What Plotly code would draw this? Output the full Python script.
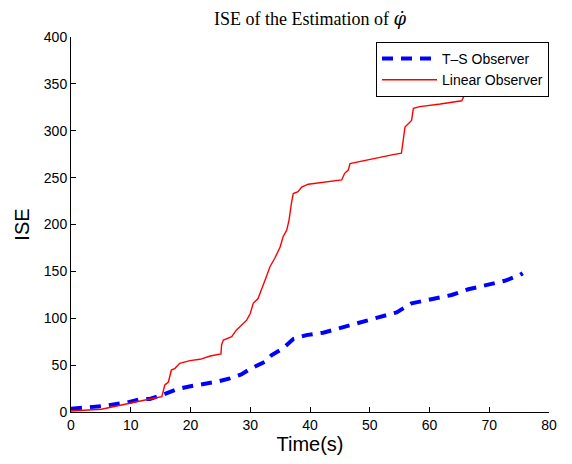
import plotly.graph_objects as go

# T-S Observer (blue dashed)
ts_time = [0, 2.5, 5.4, 8.2, 9.3, 11.5, 13.2, 14.9, 17.1, 17.7, 19.6, 21.0, 24.4, 26.6, 28.5, 30.0,
           32.5, 33.6, 35.5, 37.2, 38.3, 39.4, 42.2, 45.0, 48.4, 51.2, 54.5, 57.0, 60.6, 63.7,
           66.5, 69.6, 72.6, 75.1, 75.6]
ts_ise = [3.5, 5.0, 6.4, 9.2, 10.0, 13.5, 13.9, 17.4, 23.5, 24.2, 27.0, 28.5, 32.3, 35.9, 40.0, 46.0,
          53.7, 60.8, 68.0, 77.9, 79.7, 82.0, 84.6, 89.3, 95.6, 100.0, 106.3, 115.9, 120.2, 124.8,
          130.9, 135.5, 140.0, 146.0, 148.0]

# Linear Observer (red solid)
lin_time = [0, 5.1, 13.2, 15.2, 15.7, 16.3, 16.8, 17.4, 18.2, 19.9, 21.6, 23.3, 25.1, 25.2, 25.5,
            26.1, 26.9, 27.7, 28.8, 29.4, 30.0, 30.5, 31.3, 31.9, 32.5, 33.3, 34.1, 35.0, 35.5,
            36.1, 36.5, 36.9, 37.2, 38.0, 38.6, 39.7, 41.7, 44.7, 45.3, 45.8, 46.4, 46.7, 48.4,
            50.0, 51.7, 53.9, 55.3, 55.9, 56.4, 57.0, 57.3, 58.4, 61.8, 65.4, 65.7, 66.2, 66.5,
            68.0, 70.0, 72.0, 75.5]
lin_ise = [1.0, 3.0, 13.9, 16.3, 28.8, 32.0, 44.8, 46.6, 51.9, 54.8, 56.2, 59.7, 61.9, 71.5, 76.8,
           78.6, 80.3, 87.5, 94.6, 98.0, 105.0, 116.0, 121.0, 130.0, 141.0, 155.0, 164.0, 176.0, 187.0,
           194.0, 205.0, 223.0, 233.0, 235.0, 240.0, 243.0, 244.6, 247.5, 247.5, 254.6, 258.0, 265.0, 267.0,
           269.0, 271.6, 274.5, 276.0, 304.0, 307.0, 311.0, 324.0, 325.7, 328.5, 332.0, 336.0, 339.4, 347.0,
           352.0, 356.0, 360.0, 365.0]

x_ticks = [0, 10, 20, 30, 40, 50, 60, 70, 80]
y_ticks = [0, 50, 100, 150, 200, 250, 300, 350, 400]

fig = go.Figure()
fig.add_trace(go.Scatter(x=ts_time, y=ts_ise, mode="lines", name="T\u2013S Observer",
                         line=dict(color="#0000ff", width=4, dash="11px,8px")))
fig.add_trace(go.Scatter(x=lin_time, y=lin_ise, mode="lines", name="Linear Observer",
                         line=dict(color="#ff0000", width=1.4)))

axis_font = dict(family="Liberation Sans, Arial", size=14, color="black")
title_text = ("ISE of the Estimation of "
              "<span style=\"font-family:'DejaVu Serif'\"><i>\u03c6\u0307</i></span>")
fig.update_layout(
    width=572, height=464,
    margin=dict(l=63, r=31, t=29, b=60, autoexpand=False),
    paper_bgcolor="white", plot_bgcolor="white",
    title=dict(text=title_text, x=302/572, xanchor="center",
               y=1 - 4/464, yanchor="top", pad=dict(t=0, b=0),
               font=dict(family="Liberation Serif, Times New Roman, serif", size=18, color="black")),
    xaxis=dict(range=[0, 80], tickvals=x_ticks, ticks="inside", ticklen=5, tickcolor="black",
               showline=True, linecolor="black", linewidth=1, showgrid=False, zeroline=False,
               tickfont=axis_font, mirror=False, automargin=False,
               title=dict(text="Time(s)", font=dict(family="Liberation Sans, Arial", size=20, color="black"),
                          standoff=2)),
    yaxis=dict(range=[0, 400], tickvals=y_ticks, ticks="inside", ticklen=5, tickcolor="black",
               showline=True, linecolor="black", linewidth=1, showgrid=False, zeroline=False,
               tickfont=axis_font, mirror=False, automargin=False,
               title=dict(text="ISE", font=dict(family="Liberation Sans, Arial", size=20, color="black"),
                          standoff=8)),
    legend=dict(x=1.0, xanchor="right", y=1 - 5/375, yanchor="top",
                bgcolor="white", bordercolor="black", borderwidth=1,
                font=dict(family="Liberation Sans, Arial", size=14, color="black"),
                tracegroupgap=0, itemwidth=55),
    showlegend=True,
)

fig.write_html("out.html")
